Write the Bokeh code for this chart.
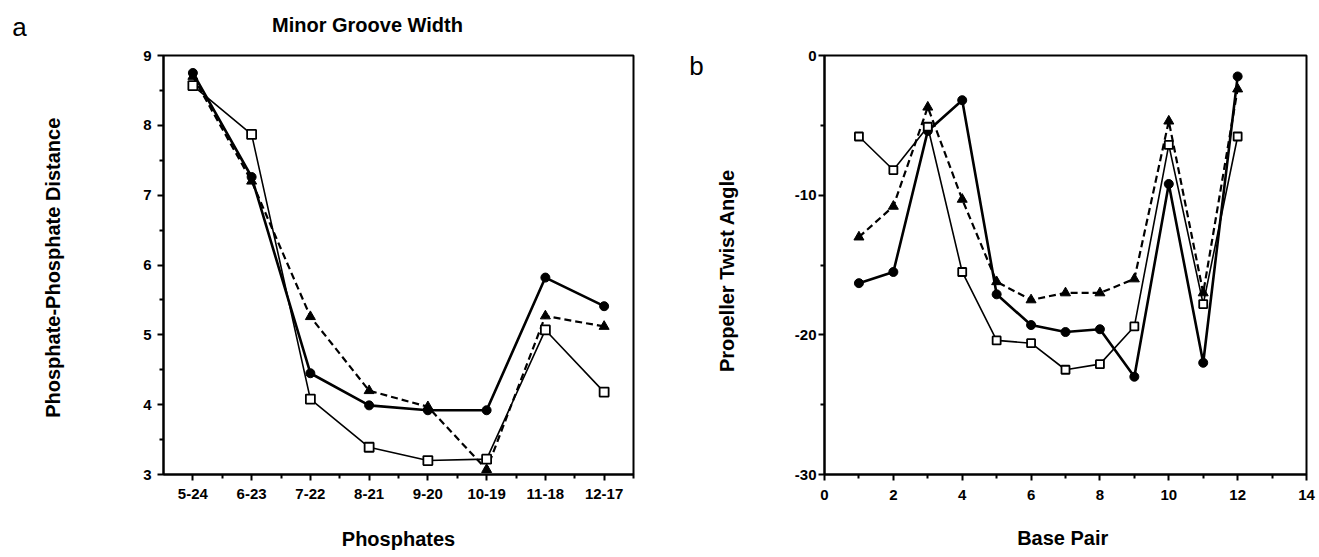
from bokeh.plotting import figure
from bokeh.layouts import row
from bokeh.models import FixedTicker, Label, ColumnDataSource
from bokeh.embed import file_html
from bokeh.resources import INLINE

# ---------------- data ----------------
phosphates = ["5-24", "6-23", "7-22", "8-21", "9-20", "10-19", "11-18", "12-17"]
mgw_circle = [8.75, 7.26, 4.45, 3.99, 3.92, 3.92, 5.82, 5.41]
mgw_triangle = [8.70, 7.20, 5.26, 4.20, 3.97, 3.07, 5.27, 5.12]
mgw_square = [8.57, 7.87, 4.08, 3.39, 3.20, 3.22, 5.07, 4.18]
a_yticks = [3, 4, 5, 6, 7, 8, 9]

base_pair = [1, 2, 3, 4, 5, 6, 7, 8, 9, 10, 11, 12]
pt_circle = [-16.3, -15.5, -5.4, -3.2, -17.1, -19.3, -19.8, -19.6, -23.0, -9.2, -22.0, -1.5]
pt_triangle = [-13.0, -10.8, -3.7, -10.3, -16.2, -17.5, -17.0, -17.0, -16.0, -4.7, -17.0, -2.4]
pt_square = [-5.8, -8.2, -5.1, -15.5, -20.4, -20.6, -22.5, -22.1, -19.4, -6.4, -17.8, -5.8]
b_xticks = [0, 2, 4, 6, 8, 10, 12, 14]
b_yticks = [0, -10, -20, -30]
b_yticklabels = ["0", "-10", "-20", "-30"]

FONT = "Liberation Sans"


def style(p):
    p.outline_line_color = "black"
    p.outline_line_width = 2
    p.xgrid.visible = False
    p.ygrid.visible = False
    p.background_fill_color = "white"
    p.border_fill_color = "white"
    for ax in (p.xaxis[0], p.yaxis[0]):
        ax.axis_line_width = 2
        ax.axis_line_color = "black"
        ax.major_tick_line_width = 2
        ax.minor_tick_line_width = 2
        ax.major_tick_in = 0
        ax.major_tick_out = 6
        ax.minor_tick_in = 0
        ax.minor_tick_out = 4
        ax.major_label_text_font = FONT
        ax.major_label_text_font_style = "bold"
        ax.major_label_text_font_size = "15px"
        ax.major_label_text_color = "black"
        ax.axis_label_text_font = FONT
        ax.axis_label_text_font_style = "bold"
        ax.axis_label_text_font_size = "20px"
        ax.axis_label_text_color = "black"


# ---------------- panel a ----------------
pa = figure(width=660, height=557, output_backend="svg", toolbar_location=None,
            x_range=(0.5, 8.5), y_range=(3, 9),
            min_border_left=163, min_border_right=27, min_border_top=55, min_border_bottom=83)
style(pa)
xa = list(range(1, len(phosphates) + 1))
pa.xaxis.ticker = FixedTicker(ticks=xa, minor_ticks=[v + 0.5 for v in xa])
pa.xaxis.major_label_overrides = {i + 1: lab for i, lab in enumerate(phosphates)}
pa.yaxis.ticker = FixedTicker(ticks=a_yticks, minor_ticks=[v + 0.5 for v in a_yticks[:-1]])
pa.xaxis.axis_label = "Phosphates"
pa.yaxis.axis_label = "Phosphate-Phosphate  Distance"
pa.xaxis.major_label_standoff = 8
pa.yaxis.major_label_standoff = 6
pa.xaxis.axis_label_standoff = 26
pa.yaxis.axis_label_standoff = 76

sa = ColumnDataSource(dict(x=xa, c=mgw_circle, t=mgw_triangle, s=mgw_square))
pa.line("x", "s", source=sa, line_color="black", line_width=1.6)
pa.line("x", "t", source=sa, line_color="black", line_width=2.2, line_dash="7 4")
pa.line("x", "c", source=sa, line_color="black", line_width=2.6)
pa.scatter("x", "t", source=sa, marker="triangle", size=10, fill_color="black", line_color="black")
pa.scatter("x", "c", source=sa, marker="circle", size=9, fill_color="black", line_color="black")
pa.scatter("x", "s", source=sa, marker="square", size=9, fill_color="white", line_color="black", line_width=1.8)

pa.add_layout(Label(x=204, y=31, x_units="screen", y_units="screen", text="Minor Groove Width",
                    text_font=FONT, text_font_style="bold", text_font_size="20px",
                    text_align="center", text_baseline="middle", text_color="black"), "above")
pa.add_layout(Label(x=-6, y=448, x_units="screen", y_units="screen", text="a",
                    text_font=FONT, text_font_size="26px",
                    text_align="center", text_baseline="middle", text_color="black"), "left")

# ---------------- panel b ----------------
pb = figure(width=659, height=557, output_backend="svg", toolbar_location=None,
            x_range=(0, 14), y_range=(-30, 0),
            min_border_left=164, min_border_right=13, min_border_top=55, min_border_bottom=83)
style(pb)
pb.xaxis.ticker = FixedTicker(ticks=b_xticks, minor_ticks=[v + 1 for v in b_xticks[:-1]])
pb.yaxis.ticker = FixedTicker(ticks=b_yticks, minor_ticks=[v - 5 for v in b_yticks[:-1]])
pb.yaxis.major_label_overrides = {v: lab for v, lab in zip(b_yticks, b_yticklabels)}
pb.xaxis.axis_label = "Base  Pair"
pb.yaxis.axis_label = "Propeller  Twist  Angle"
pb.xaxis.major_label_standoff = 9
pb.yaxis.major_label_standoff = 2
pb.xaxis.axis_label_standoff = 24
pb.yaxis.axis_label_standoff = 54

sb = ColumnDataSource(dict(x=base_pair, c=pt_circle, t=pt_triangle, s=pt_square))
pb.line("x", "s", source=sb, line_color="black", line_width=1.6)
pb.line("x", "t", source=sb, line_color="black", line_width=2.2, line_dash="7 4")
pb.line("x", "c", source=sb, line_color="black", line_width=2.6)
pb.scatter("x", "t", source=sb, marker="triangle", size=10, fill_color="black", line_color="black")
pb.scatter("x", "c", source=sb, marker="circle", size=9, fill_color="black", line_color="black")
pb.scatter("x", "s", source=sb, marker="square", size=8, fill_color="white", line_color="black", line_width=1.8)

pb.add_layout(Label(x=-2, y=409, x_units="screen", y_units="screen", text="b",
                    text_font=FONT, text_font_size="26px",
                    text_align="center", text_baseline="middle", text_color="black"), "left")

layout = row(pa, pb)
open("out.html", "w").write(file_html(layout, INLINE))
